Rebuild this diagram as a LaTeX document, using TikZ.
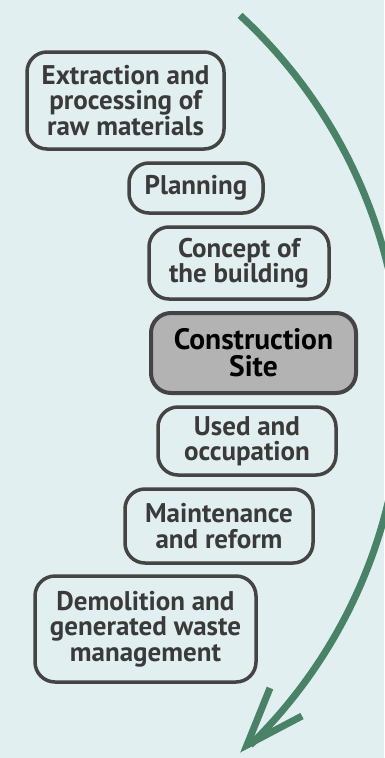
\documentclass[tikz,border=0pt]{standalone}
\usepackage{fontspec}
\setmainfont{PT Sans}
\definecolor{bgcol}{RGB}{225,239,240}
\definecolor{edgecol}{RGB}{68,68,68}
\definecolor{txtcol}{RGB}{58,58,58}
\definecolor{sitecol}{RGB}{179,179,179}
\definecolor{flowcol}{RGB}{74,130,104}
\begin{document}
\begin{tikzpicture}[x=1pt,y=-1pt,
  stage/.style={draw=edgecol, line width=3.5pt, rounded corners=20pt,
    fill=bgcol, text=txtcol, align=center, inner sep=0pt,
    font=\bfseries\fontsize{27}{25.5}\selectfont},
  sitebox/.style={stage, fill=sitecol, text=black, line width=4pt,
    font=\bfseries\fontsize{29.5}{27}\selectfont},
  flow/.style={draw=flowcol, line width=7pt}]
  % canvas
  \fill[bgcol] (0,0) rectangle (384,758);
  \useasboundingbox (0,0) rectangle (384,758);

  % life-cycle stages
  \node[stage, minimum width=197pt, minimum height=97pt] (extract) at (125.5,100.5)
    {Extraction and\\processing of\\raw materials};
  \node[stage, minimum width=134pt, minimum height=50pt] (plan) at (196,188)
    {Planning};
  \node[stage, minimum width=180pt, minimum height=72pt] (concept) at (239,263)
    {Concept of\\the building};
  \node[sitebox, minimum width=205pt, minimum height=80pt] (site) at (253.5,353)
    {Construction\\Site};
  \node[stage, minimum width=178pt, minimum height=68pt] (use) at (247,441)
    {Used and\\occupation};
  \node[stage, minimum width=188pt, minimum height=74pt] (maint) at (219,526)
    {Maintenance\\and reform};
  \node[stage, minimum width=221pt, minimum height=106pt] (demol) at (145.5,629)
    {Demolition and\\generated waste\\management};

  % sweeping arrow along the whole cycle
  \coordinate (tip) at (247,745);
  \coordinate (armA) at (270,688);
  \coordinate (armB) at (302,716);
  \draw[flow, line cap=butt]
    plot[domain=47.3:-45.7, samples=120, smooth]
    ({-101+503*cos(\x)},{385-503*sin(\x)});
  \draw[flow, line join=miter, miter limit=10] (armA) -- (tip) -- (armB);
\end{tikzpicture}
\end{document}
